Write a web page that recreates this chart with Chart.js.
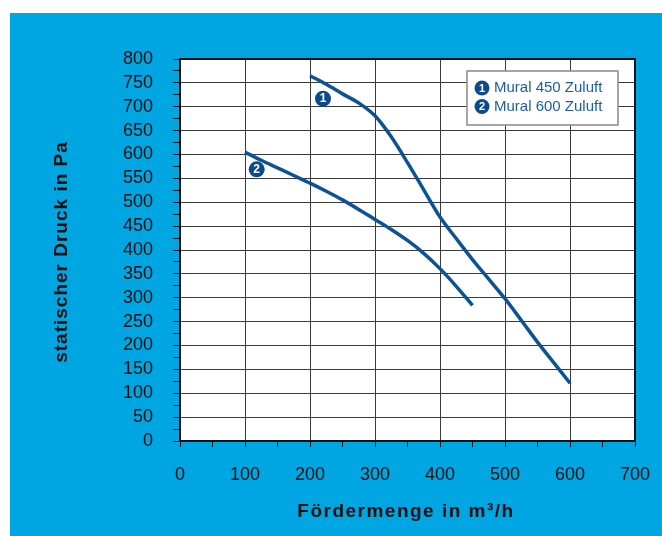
<!DOCTYPE html>
<html>
<head>
<meta charset="utf-8">
<script src="https://cdn.jsdelivr.net/npm/chart.js@4"></script>
<style>
  html, body { margin: 0; padding: 0; background: #fff; }
  #wrap { position: absolute; left: 10px; top: 13px; width: 652px; height: 523px; background: #00a6e2; }
  #chart { display: block; }
</style>
</head>
<body>
<div id="wrap"><canvas id="chart" width="652" height="523"></canvas></div>
<script>
// Kennlinien Mural 450 / 600 Zuluft
var seriesNames = ['Mural 450 Zuluft', 'Mural 600 Zuluft'];
var seriesNums = ['1', '2'];
var flow450 = [200, 225, 250, 275, 300, 325, 350, 375, 400, 425, 450, 475, 500, 525, 550, 575, 600];
var pressure450 = [765, 747, 727, 708, 681, 637, 583, 526, 469, 424, 380, 339, 298, 253, 207, 164, 121];
var flow600 = [100, 125, 150, 175, 200, 225, 250, 275, 300, 325, 350, 375, 400, 425, 450];
var pressure600 = [605, 588, 572, 556, 540, 523, 505, 485, 464, 443, 420, 393, 361, 324, 284];
// Lage der Nummern-Marker an den Kurven (in Datenwerten)
var markerFlow = [220, 118];
var markerPressure = [717, 569];
var xMin = 0, xMax = 700, yMin = 0, yMax = 800;

var lineColor = '#0b5396';
var badgeColor = '#0b4a8c';
var legendText = '#1a5ea6';

function pts(xs, ys) { return xs.map(function(x, i) { return { x: x, y: ys[i] }; }); }

function badge(ctx, x, y, r, txt) {
    ctx.save();
    ctx.beginPath();
    ctx.arc(x, y, r, 0, Math.PI * 2);
    ctx.fillStyle = badgeColor;
    ctx.fill();
    ctx.fillStyle = '#fff';
    ctx.font = 'bold ' + Math.round(r * 1.45) + 'px "Liberation Sans", Arial, sans-serif';
    ctx.textAlign = 'center';
    ctx.textBaseline = 'middle';
    ctx.fillText(txt, x, y + 0.5);
    ctx.restore();
}

var decor = {
    id: 'decor',
    beforeDraw: function(chart) {
        var ctx = chart.ctx, a = chart.chartArea;
        ctx.save();
        ctx.fillStyle = '#fff';
        ctx.fillRect(a.left, a.top, a.right - a.left, a.bottom - a.top);
        ctx.restore();
    },
    afterDraw: function(chart) {
        var ctx = chart.ctx, a = chart.chartArea;
        var xs = chart.scales.x, ys = chart.scales.y;
        // Rahmen
        ctx.save();
        ctx.strokeStyle = '#111';
        ctx.lineWidth = 2;
        ctx.strokeRect(a.left, a.top, a.right - a.left, a.bottom - a.top);
        ctx.restore();
        // Nummern an den Kurven
        for (var i = 0; i < seriesNums.length; i++) {
            badge(ctx, xs.getPixelForValue(markerFlow[i]), ys.getPixelForValue(markerPressure[i]), 8, seriesNums[i]);
        }
        // Legende
        var lx = 457, ly = 58, lw = 151, lh = 54;
        ctx.save();
        ctx.fillStyle = '#fff';
        ctx.fillRect(lx, ly, lw, lh);
        ctx.strokeStyle = '#888';
        ctx.lineWidth = 1.5;
        ctx.strokeRect(lx, ly, lw, lh);
        ctx.font = '15px "Liberation Sans", Arial, sans-serif';
        ctx.textBaseline = 'middle';
        ctx.textAlign = 'left';
        for (var j = 0; j < seriesNames.length; j++) {
            var cy = ly + 17 + j * 18.5;
            badge(ctx, lx + 15, cy, 7.5, seriesNums[j]);
            ctx.fillStyle = legendText;
            ctx.fillText(seriesNames[j], lx + 27, cy);
        }
        ctx.restore();
        // Achsentitel
        ctx.save();
        ctx.fillStyle = '#111';
        ctx.font = 'bold 19px "Liberation Sans", Arial, sans-serif';
        ctx.textAlign = 'center';
        ctx.textBaseline = 'middle';
        ctx.letterSpacing = '1.5px';
        ctx.fillText('Fördermenge in m³/h', 396, 499);
        ctx.translate(52, 239);
        ctx.rotate(-Math.PI / 2);
        ctx.letterSpacing = '1px';
        ctx.fillText('statischer Druck in Pa', 0, 0);
        ctx.restore();
    }
};

new Chart(document.getElementById('chart'), {
    type: 'line',
    data: {
        datasets: [
            { label: seriesNames[0], data: pts(flow450, pressure450), borderColor: lineColor, borderWidth: 3.5, pointRadius: 0, cubicInterpolationMode: 'monotone', fill: false },
            { label: seriesNames[1], data: pts(flow600, pressure600), borderColor: lineColor, borderWidth: 3.5, pointRadius: 0, cubicInterpolationMode: 'monotone', fill: false }
        ]
    },
    options: {
        responsive: false, animation: false,
        layout: { padding: { left: 0, top: 46, right: 27, bottom: 0 } },
        plugins: { legend: { display: false }, tooltip: { enabled: false } },
        scales: {
            x: {
                type: 'linear', min: xMin, max: xMax,
                afterFit: function(s) { s.height = 95; s.paddingLeft = 0; s.paddingRight = 0; },
                ticks: { stepSize: 50, autoSkip: false, maxRotation: 0, padding: 17, color: '#111',
                    font: { size: 18, family: '"Liberation Sans", Arial, sans-serif' },
                    callback: function(v) { return v % 100 === 0 ? String(v) : ''; } },
                grid: { color: function(c) { return (c.tick && c.tick.value % 100 === 0) ? '#3a3a3a' : 'rgba(0,0,0,0)'; },
                    tickColor: '#111', tickLength: 6, lineWidth: 1 },
                border: { color: '#111', width: 2 }
            },
            y: {
                type: 'linear', min: yMin, max: yMax,
                afterFit: function(s) { s.width = 170; s.paddingTop = 0; s.paddingBottom = 0; },
                ticks: { stepSize: 25, autoSkip: false, padding: 20, color: '#111',
                    font: { size: 18, family: '"Liberation Sans", Arial, sans-serif' },
                    callback: function(v) { return v % 50 === 0 ? String(v) : ''; } },
                grid: { color: function(c) { return (c.tick && c.tick.value % 50 === 0) ? '#3a3a3a' : 'rgba(0,0,0,0)'; },
                    tickColor: '#111', tickLength: 7, lineWidth: 1 },
                border: { color: '#111', width: 2 }
            }
        }
    },
    plugins: [decor]
});
</script>
</body>
</html>
